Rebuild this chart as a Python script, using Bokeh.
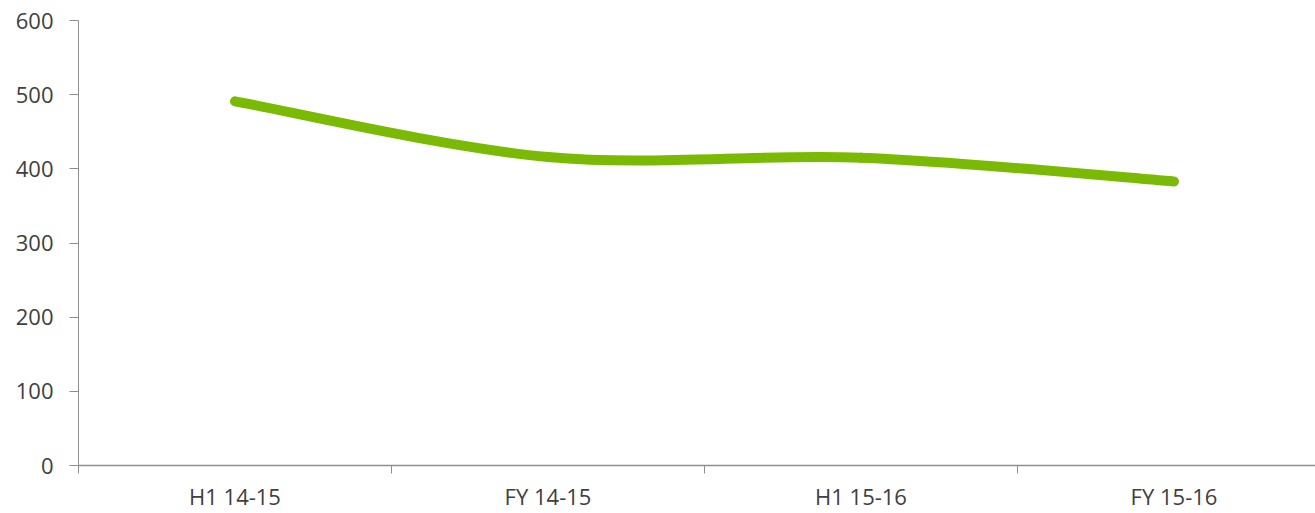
from bokeh.plotting import figure
from bokeh.models import FixedTicker, Range1d, ColumnDataSource
from bokeh.embed import file_html
from bokeh.resources import INLINE

# Chart data
periods = ["H1 14-15", "FY 14-15", "H1 15-16", "FY 15-16"]
values = [491, 416, 415, 383]
y_ticks = [0, 100, 200, 300, 400, 500, 600]

LINE_COLOR = "#7aba04"
AXIS_COLOR = "#8f8f8f"
TEXT_COLOR = "#404040"
FONT = "Open Sans"

# Each period occupies one unit band; points sit at band centres
xs = [i + 0.5 for i in range(len(periods))]

# Smooth curve: cubic Bezier segments with Catmull-Rom style control points
x0, y0, x1, y1, cx0, cy0, cx1, cy1 = ([] for _ in range(8))
n = len(xs)
for i in range(n - 1):
    pm = (xs[max(i - 1, 0)], values[max(i - 1, 0)])
    pa = (xs[i], values[i])
    pb = (xs[i + 1], values[i + 1])
    pn = (xs[min(i + 2, n - 1)], values[min(i + 2, n - 1)])
    x0.append(pa[0]); y0.append(pa[1])
    x1.append(pb[0]); y1.append(pb[1])
    cx0.append(pa[0] + (pb[0] - pm[0]) / 6); cy0.append(pa[1] + (pb[1] - pm[1]) / 6)
    cx1.append(pb[0] - (pn[0] - pa[0]) / 6); cy1.append(pb[1] - (pn[1] - pa[1]) / 6)

src = ColumnDataSource(dict(x0=x0, y0=y0, x1=x1, y1=y1, cx0=cx0, cy0=cy0, cx1=cx1, cy1=cy1))

W, H = 1315, 513
left, top, bottom = 78, 20, 48
band_px = 313
x_end = (W - left) / band_px

p = figure(width=W, height=H, output_backend="svg", toolbar_location=None,
           x_range=Range1d(0, x_end), y_range=Range1d(0, 600),
           min_border_left=left, min_border_right=0,
           min_border_top=top, min_border_bottom=bottom)
p.outline_line_color = None
p.background_fill_color = "white"
p.border_fill_color = "white"
p.xgrid.visible = False
p.ygrid.visible = False

p.bezier(x0="x0", y0="y0", x1="x1", y1="y1", cx0="cx0", cy0="cy0", cx1="cx1", cy1="cy1",
         source=src, line_color=LINE_COLOR, line_width=10, line_cap="round", line_join="round")

# y axis
ya = p.yaxis[0]
ya.ticker = FixedTicker(ticks=y_ticks, minor_ticks=[])
ya.axis_line_color = AXIS_COLOR
ya.axis_line_width = 1
ya.major_tick_line_color = AXIS_COLOR
ya.major_tick_out = 9
ya.major_tick_in = 0
ya.minor_tick_line_color = None
ya.major_label_standoff = 16
ya.major_label_text_font = FONT
ya.major_label_text_font_size = "22px"
ya.major_label_text_color = TEXT_COLOR

# x axis: labels centred in bands, tick marks on band boundaries
xa = p.xaxis[0]
xa.ticker = FixedTicker(ticks=xs, minor_ticks=list(range(len(periods) + 1)))
xa.major_label_overrides = {x: lab for x, lab in zip(xs, periods)}
xa.axis_line_color = AXIS_COLOR
xa.axis_line_width = 1.5
xa.major_tick_line_color = None
xa.major_tick_out = 0
xa.major_tick_in = 0
xa.minor_tick_line_color = AXIS_COLOR
xa.minor_tick_out = 8
xa.minor_tick_in = 0
xa.major_label_standoff = 7
xa.major_label_text_font = FONT
xa.major_label_text_font_size = "22px"
xa.major_label_text_color = TEXT_COLOR

open("out.html", "w").write(file_html(p, INLINE))
